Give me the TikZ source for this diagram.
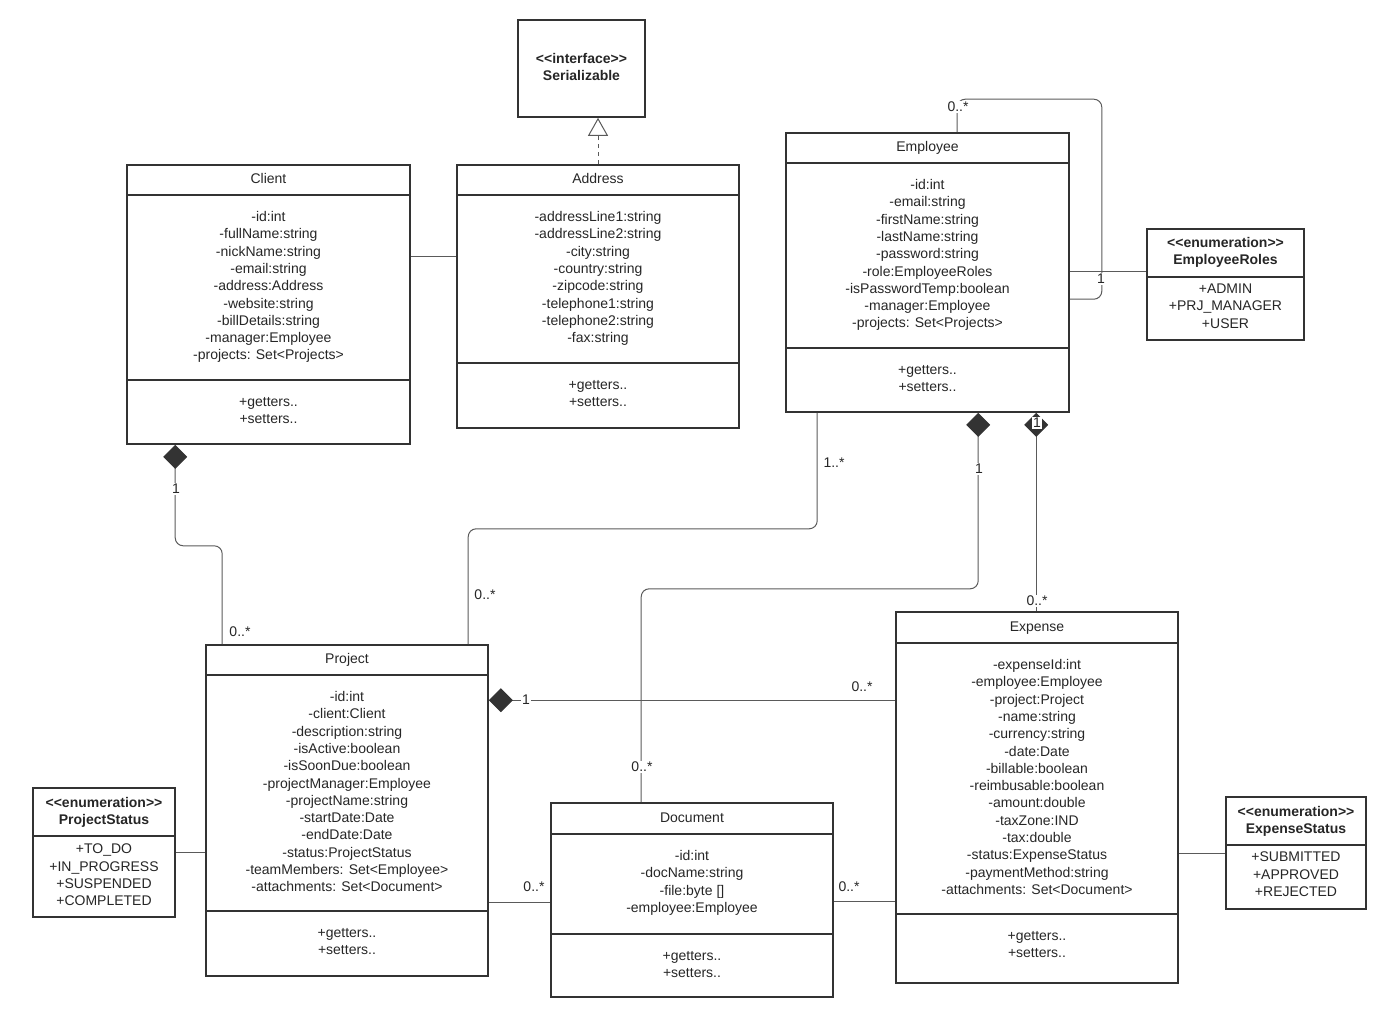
\documentclass[tikz,border=0pt]{standalone}
\usepackage{fontspec}
\setmainfont{Liberation Sans}
\usetikzlibrary{arrows.meta}
\definecolor{boxc}{HTML}{333333}
\definecolor{linec}{HTML}{5A5A5A}
\definecolor{txtc}{HTML}{262626}
\tikzset{
  umlbox/.style={draw=boxc, line width=1.6pt, rectangle, inner sep=0pt},
  boxline/.style={draw=boxc, line width=1.6pt},
  bodytext/.style={anchor=north, align=center, inner sep=0pt, font=\fontsize{14}{17.3}\selectfont, text=txtc},
  boldtext/.style={anchor=north, align=center, inner sep=0pt, font=\fontsize{14}{17.3}\selectfont\bfseries, text=txtc},
  titletext/.style={inner sep=0pt, font=\fontsize{14}{16}\selectfont, text=txtc, text height=10pt, text depth=2.7pt},
  conn/.style={draw=linec, line width=1pt, rounded corners=8pt},
  lbl/.style={font=\fontsize{14}{16}\selectfont, text=txtc, inner sep=1pt},
  lblw/.style={lbl, fill=white},
  diam/.style={{Diamond[length=24pt,width=24pt,fill=boxc,color=boxc]}-},
}
\newcommand\umlclass[9]{%
  \node[umlbox, minimum width={#4-#2}, minimum height={#5-#3}] (#1) at ({(#2+#4)/2},{(#3+#5)/2}) {};
  \draw[boxline] (#2,#6) -- (#4,#6);
  \draw[boxline] (#2,#7) -- (#4,#7);
  \node[titletext] (#1-t) at ({(#2+#4)/2},{(#3+#6)/2}) {#8};
  \node[bodytext] (#1-a) at ({(#2+#4)/2},{#6+16.2}) {#9};
  \node[bodytext] (#1-m) at ({(#2+#4)/2},{#7+17.2}) {+getters..\\+setters..};
}
\begin{document}
\begin{tikzpicture}[x=1pt,y=-1pt]
\useasboundingbox (0,0) rectangle (1382,1011);

% Serializable
\node[umlbox, minimum width=127, minimum height=97] (serial) at (581.5,68.5) {};
\node[boldtext] (serial-t) at (581.5,52.8) {<{}<interface>{}>\\Serializable};

\umlclass{client}{127}{165}{410}{444}{195}{380}{Client}{-id:int\\-fullName:string\\-nickName:string\\-email:string\\-address:Address\\-website:string\\-billDetails:string\\-manager:Employee\\-projects: Set<Projects>}

\umlclass{address}{457}{165}{739}{428}{195}{363}{Address}{-addressLine1:string\\-addressLine2:string\\-city:string\\-country:string\\-zipcode:string\\-telephone1:string\\-telephone2:string\\-fax:string}

\umlclass{employee}{786}{133}{1069}{412}{163}{348}{Employee}{-id:int\\-email:string\\-firstName:string\\-lastName:string\\-password:string\\-role:EmployeeRoles\\-isPasswordTemp:boolean\\-manager:Employee\\-projects: Set<Projects>}

\umlclass{project}{206}{645}{488}{976}{675}{911}{Project}{-id:int\\-client:Client\\-description:string\\-isActive:boolean\\-isSoonDue:boolean\\-projectManager:Employee\\-projectName:string\\-startDate:Date\\-endDate:Date\\-status:ProjectStatus\\-teamMembers: Set<Employee>\\-attachments: Set<Document>}

\umlclass{document}{551}{803}{833}{997}{834}{934}{Document}{-id:int\\-docName:string\\-file:byte []\\-employee:Employee}

\umlclass{expense}{896}{612}{1178}{983}{643}{914}{Expense}{-expenseId:int\\-employee:Employee\\-project:Project\\-name:string\\-currency:string\\-date:Date\\-billable:boolean\\-reimbusable:boolean\\-amount:double\\-taxZone:IND\\-tax:double\\-status:ExpenseStatus\\-paymentMethod:string\\-attachments: Set<Document>}

% Enumerations
\node[umlbox, minimum width=157, minimum height=111] (emproles) at (1225.5,284.5) {};
\draw[boxline] (1147,277) -- (1304,277);
\node[boldtext] (emproles-t) at (1225.5,236.8) {<{}<enumeration>{}>\\EmployeeRoles};
\node[bodytext] (emproles-a) at (1225.5,283.8) {+ADMIN\\+PRJ\_MANAGER\\+USER};

\node[umlbox, minimum width=142, minimum height=129] (pstatus) at (104,852.5) {};
\draw[boxline] (33,836) -- (175,836);
\node[boldtext] (pstatus-t) at (104,796.8) {<{}<enumeration>{}>\\ProjectStatus};
\node[bodytext] (pstatus-a) at (104,843.8) {+TO\_DO\\+IN\_PROGRESS\\+SUSPENDED\\+COMPLETED};

\node[umlbox, minimum width=140, minimum height=112] (exstatus) at (1296,853) {};
\draw[boxline] (1226,845) -- (1366,845);
\node[boldtext] (exstatus-t) at (1296,805.8) {<{}<enumeration>{}>\\ExpenseStatus};
\node[bodytext] (exstatus-a) at (1296,851.8) {+SUBMITTED\\+APPROVED\\+REJECTED};

% Connectors
\coordinate (ca) at ([yshift=-92pt]client.north east);
\draw[conn] (ca) -- (ca -| address.west);

\draw[conn, dash pattern=on 4pt off 4pt, -{Triangle[open, length=18pt, width=20pt, fill=white]}] (address.north) -- (address.north |- serial.south);

% Employee self association
\draw[conn] ([xshift=172pt]employee.north west) -- ++(0,-33) -| ([xshift=32pt,yshift=-167pt]employee.north east) -- ([yshift=-167pt]employee.north east);
\node[lblw] (l-self1) at (958,107) {0..*};

% Employee - EmployeeRoles
\coordinate (er) at ([yshift=-139pt]employee.north east);
\draw[conn] (er) -- (er -| emproles.west);
\node[lblw] (l-self2) at (1101,279) {1};

% Client - Project
\draw[conn, diam] ([xshift=49pt]client.south west) -- ++(0,101) -| ([xshift=17pt]project.north west);
\node[lblw] (l-cp1) at (176,489) {1};
\node[lbl] (l-cp2) at (240,632) {0..*};

% Employee - Project
\draw[conn] ([xshift=32pt]employee.south west) -- ++(0,116) -| ([xshift=263pt]project.north west);
\node[lbl] (l-ep1) at (834,463) {1..*};
\node[lbl] (l-ep2) at (485,595) {0..*};

% Employee - Document
\draw[conn, diam] ([xshift=193pt]employee.south west) -- ++(0,176) -| ([xshift=91pt]document.north west);
\node[lblw] (l-ed1) at (979,469) {1};

% Employee - Expense
\draw[conn, diam] ([xshift=251pt]employee.south west) -- ([xshift=141pt]expense.north west);
\node[lblw] (l-ee1) at (1037,423) {1};
\node[lblw] (l-ee2) at (1037,601) {0..*};

% Project - Expense
\coordinate (pe) at ([yshift=-56pt]project.north east);
\draw[conn, diam] (pe) -- (pe -| expense.west);
\node[lblw] (l-pe1) at (526,700) {1};
\node[lbl] (l-pe2) at (862,687) {0..*};
\node[lblw] (l-ed2) at (642,767) {0..*};

% ProjectStatus - Project
\draw[conn] (pstatus.east) -- (pstatus.east -| project.west);

% Project - Document
\coordinate (pd) at ([yshift=-258pt]project.north east);
\draw[conn] (pd) -- (pd -| document.west);
\node[lbl] (l-pd) at (534,887) {0..*};

% Document - Expense
\coordinate (de) at ([yshift=-99pt]document.north east);
\draw[conn] (de) -- (de -| expense.west);
\node[lbl] (l-de) at (849,887) {0..*};

% Expense - ExpenseStatus
\draw[conn] (exstatus.west -| expense.east) -- (exstatus.west);
\end{tikzpicture}
\end{document}
